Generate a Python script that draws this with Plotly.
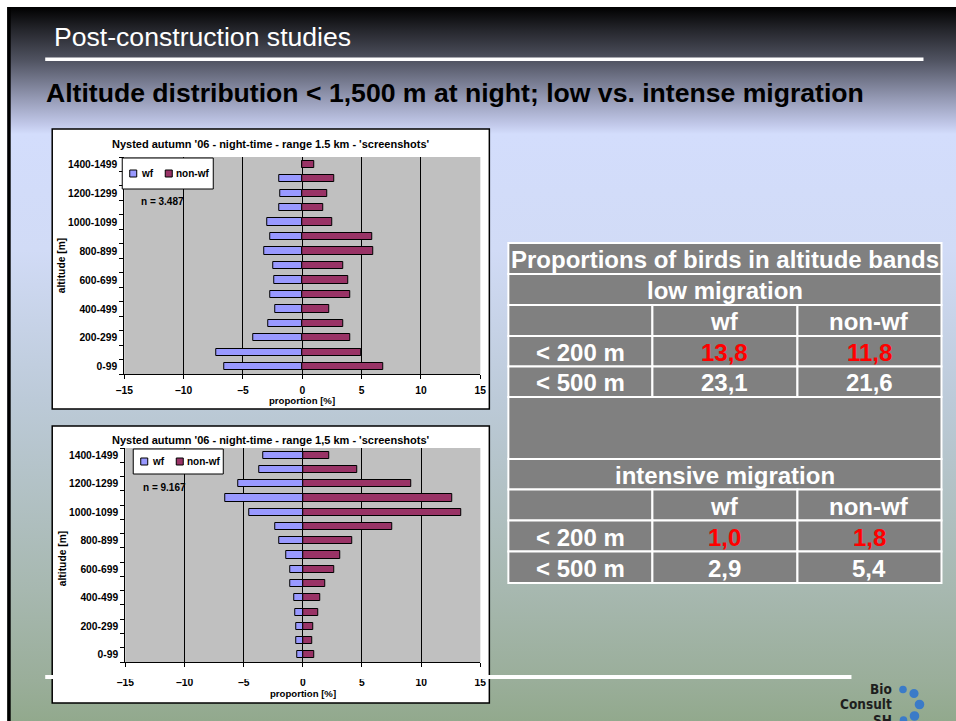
import base64
import plotly.graph_objects as go

# ---------------- data ----------------
altitude_bands = ["0-99", "100-199", "200-299", "300-399", "400-499", "500-599",
                  "600-699", "700-799", "800-899", "900-999", "1000-1099",
                  "1100-1199", "1200-1299", "1300-1399", "1400-1499"]

# proportion [%] per altitude band, low migration (n = 3.487)
low_wf = [6.55, 7.25, 4.15, 2.85, 2.30, 2.70, 2.33, 2.42, 3.20, 2.70, 2.98, 1.94, 1.85, 1.94, 0.00]
low_nonwf = [6.80, 5.00, 4.05, 3.45, 2.30, 4.07, 3.88, 3.43, 6.01, 5.87, 2.50, 1.74, 2.10, 2.72, 1.04]

# proportion [%] per altitude band, intensive migration (n = 9.167)
int_wf = [0.45, 0.55, 0.55, 0.65, 0.70, 1.09, 1.09, 1.43, 2.00, 2.34, 4.51, 6.57, 5.49, 3.69, 3.30]
int_nonwf = [1.00, 0.80, 0.85, 1.30, 1.45, 1.91, 2.66, 3.20, 4.17, 7.54, 13.37, 12.60, 9.17, 4.60, 2.23]

series_names = ["wf", "non-wf"]
x_ticks = [-15, -10, -5, 0, 5, 10, 15]

chart_titles = ["Nysted autumn '06 - night-time - range 1.5 km - 'screenshots'",
                "Nysted autumn '06 - night-time - range 1,5 km - 'screenshots'"]
sample_sizes = ["n = 3.487", "n = 9.167"]

# summary table
table_title = "Proportions of birds in altitude bands"
sections = ["low migration", "intensive migration"]
col_heads = ["wf", "non-wf"]
band_labels = ["< 200 m", "< 500 m"]
low_tab_wf = [13.8, 23.1]
low_tab_nonwf = [11.8, 21.6]
int_tab_wf = [1.0, 2.9]
int_tab_nonwf = [1.8, 5.4]

# ---------------- page geometry ----------------
W, H = 956, 721
# the page hosting the figure sits 7.8 px in and is drawn at 0.984 of its width
X_OFF, X_SCALE = 7.8, 0.984
FONT = "Liberation Sans, Arial, sans-serif"
SERIES_COLORS = ["#9999FF", "#993366"]
PLOT_GRAY = "#C0C0C0"
CELL_GRAY = "#808080"


def px(x):
    return (x - X_OFF) / X_SCALE / W


def py(y):
    return 1 - y / H


def bold(size, color="black"):
    return dict(family=FONT, size=size, color=color, weight="bold")


# vertical background gradient as an inline SVG image
stops = [(0.000, "#000000"), (0.032, "#25262c"), (0.074, "#4f5260"),
         (0.130, "#979cb7"), (0.165, "#c2c9ea"), (0.178, "#d3ddfc"),
         (0.340, "#d1dbf6"), (0.550, "#bccad8"), (0.816, "#a7b8b0"),
         (0.943, "#9aae9a"), (1.000, "#92a98d")]
stop_xml = "".join(f'<stop offset="{o}" stop-color="{c}"/>' for o, c in stops)
svg = ('<svg xmlns="http://www.w3.org/2000/svg" width="960" height="714" '
       'viewBox="0 0 960 714" preserveAspectRatio="none">'
       '<defs><linearGradient id="g" x1="0" y1="0" x2="0" y2="1">'
       f'{stop_xml}</linearGradient></defs>'
       '<rect width="960" height="714" fill="url(#g)"/></svg>')
bg_uri = "data:image/svg+xml;base64," + base64.b64encode(svg.encode()).decode()

fig = go.Figure()

ypos = list(range(len(altitude_bands)))
panels = [
    dict(wf=low_wf, nonwf=low_nonwf, xa="x", ya="y"),
    dict(wf=int_wf, nonwf=int_nonwf, xa="x2", ya="y2"),
]
for p in panels:
    for name, vals, sign, color in [(series_names[0], p["wf"], -1, SERIES_COLORS[0]),
                                    (series_names[1], p["nonwf"], 1, SERIES_COLORS[1])]:
        fig.add_trace(go.Bar(
            y=ypos, x=[sign * v for v in vals], orientation="h", name=name,
            marker=dict(color=color, line=dict(color="black", width=1)),
            width=0.5, xaxis=p["xa"], yaxis=p["ya"], showlegend=False,
            hoverinfo="skip"))

# chart boxes: (box left, top, right, bottom), plot (left, top, right, bottom)
boxes = [
    dict(box=(51, 129, 488, 409), plot=(123, 157, 479, 374),
         legend=(121, 158, 212, 189), n=(138, 201), title_y=144,
         ytitle=(60, 265), xtitle_y=400, standoff=3),
    dict(box=(51, 426, 488, 703), plot=(124, 448, 479, 662),
         legend=(132, 449, 222, 474), n=(140, 487), title_y=440,
         ytitle=(61, 558), xtitle_y=693, standoff=7),
]

axis_common_x = dict(range=[-15, 15], tickmode="array", tickvals=x_ticks,
                     showgrid=True, gridcolor="black", gridwidth=1,
                     zeroline=True, zerolinecolor="black", zerolinewidth=1,
                     showline=True, linecolor="black", linewidth=1,
                     ticks="outside", ticklen=4, tickcolor="black",
                     tickfont=bold(10.3), fixedrange=True)
axis_common_y = dict(range=[-0.5, len(altitude_bands) - 0.5], tickmode="array",
                     tickvals=ypos[::2], ticktext=altitude_bands[::2],
                     showgrid=False, zeroline=False,
                     showline=True, linecolor="black", linewidth=1,
                     ticks="outside", ticklen=4, tickcolor="rgba(0,0,0,0)",
                     minor=dict(tickmode="array",
                                tickvals=[i - 0.5 for i in range(len(altitude_bands) + 1)],
                                ticks="outside", ticklen=4, tickcolor="black",
                                showgrid=False),
                     tickfont=bold(10.3), fixedrange=True)

b1, b2 = boxes
fig.update_layout(
    xaxis=dict(domain=[px(b1["plot"][0]), px(b1["plot"][2])], anchor="y",
               ticklabelstandoff=b1["standoff"], **axis_common_x),
    yaxis=dict(domain=[py(b1["plot"][3]), py(b1["plot"][1])], anchor="x", **axis_common_y),
    xaxis2=dict(domain=[px(b2["plot"][0]), px(b2["plot"][2])], anchor="y2",
                ticklabelstandoff=b2["standoff"], **axis_common_x),
    yaxis2=dict(domain=[py(b2["plot"][3]), py(b2["plot"][1])], anchor="x2", **axis_common_y),
)

shapes = []
annotations = []
images = [dict(source=bg_uri, xref="paper", yref="paper", x=px(6), y=py(7),
               sizex=px(966) - px(6), sizey=714 / H, sizing="stretch",
               xanchor="left", yanchor="top", layer="below")]

# black left border of the slide
shapes.append(dict(type="rect", xref="paper", yref="paper", x0=px(6), x1=px(9.5),
                   y0=py(721), y1=py(7), fillcolor="black", line_width=0,
                   layer="below"))

# header rule and bottom rule
shapes.append(dict(type="rect", xref="paper", yref="paper", x0=px(44), x1=px(922),
                   y0=py(61), y1=py(57.5), fillcolor="white", line_width=0,
                   layer="below"))
shapes.append(dict(type="rect", xref="paper", yref="paper", x0=px(44), x1=px(850),
                   y0=py(679), y1=py(675), fillcolor="white", line_width=0,
                   layer="above"))

# legend layout inside its box: (square offset, text offset) per entry
legend_offsets = [(7.5, 16.5), (43, 51.5)]

for i, b in enumerate(boxes):
    bx0, by0, bx1, by1 = b["box"]
    shapes.append(dict(type="rect", xref="paper", yref="paper",
                       x0=px(bx0), x1=px(bx1), y0=py(by1), y1=py(by0),
                       fillcolor="white", line=dict(color="black", width=1.5),
                       layer="below"))
    xa = "x" if i == 0 else "x2"
    ya = "y" if i == 0 else "y2"
    shapes.append(dict(type="rect", xref=f"{xa} domain", yref=f"{ya} domain",
                       x0=0, x1=1, y0=0, y1=1, fillcolor=PLOT_GRAY, line_width=0,
                       layer="below"))

    # legend box with its two entries
    lx0, ly0, lx1, ly1 = b["legend"]
    lyc = (ly0 + ly1) / 2
    shapes.append(dict(type="rect", xref="paper", yref="paper",
                       x0=px(lx0), x1=px(lx1), y0=py(ly1), y1=py(ly0),
                       fillcolor="white", line=dict(color="black", width=1),
                       layer="above"))
    for (sq_off, tx_off), name, color in zip(legend_offsets, series_names, SERIES_COLORS):
        shapes.append(dict(type="rect", xref="paper", yref="paper",
                           x0=px(lx0 + sq_off), x1=px(lx0 + sq_off + 7),
                           y0=py(lyc + 3.5), y1=py(lyc - 3.5),
                           fillcolor=color, line=dict(color="black", width=1),
                           layer="above"))
        annotations.append(dict(text=name, xref="paper", yref="paper",
                                x=px(lx0 + tx_off), y=py(lyc), xanchor="left",
                                yanchor="middle", showarrow=False, font=bold(10)))

    annotations.append(dict(text=chart_titles[i], xref="paper", yref="paper",
                            x=px((bx0 + bx1) / 2), y=py(b["title_y"]),
                            xanchor="center", yanchor="middle", showarrow=False,
                            font=bold(11)))
    annotations.append(dict(text=sample_sizes[i], xref="paper", yref="paper",
                            x=px(b["n"][0]), y=py(b["n"][1]),
                            xanchor="left", yanchor="middle", showarrow=False,
                            font=bold(10)))
    annotations.append(dict(text="altitude [m]", xref="paper", yref="paper",
                            x=px(b["ytitle"][0]), y=py(b["ytitle"][1]),
                            xanchor="center", yanchor="middle", textangle=-90,
                            showarrow=False, font=bold(10.3)))
    annotations.append(dict(text="proportion [%]", xref="paper", yref="paper",
                            x=px((b["plot"][0] + b["plot"][2]) / 2), y=py(b["xtitle_y"]),
                            xanchor="center", yanchor="middle", showarrow=False,
                            font=bold(9.6)))

# slide heading texts
annotations.append(dict(text="Post-construction studies", xref="paper", yref="paper",
                        x=px(51), y=py(37), xanchor="left", yanchor="middle",
                        showarrow=False,
                        font=dict(family=FONT, size=26.6, color="white")))
annotations.append(dict(text="Altitude distribution < 1,500 m at night; low vs. intense migration",
                        xref="paper", yref="paper", x=px(43), y=py(93),
                        xanchor="left", yanchor="middle", showarrow=False,
                        font=bold(26.6)))

# ---------------- summary table ----------------
col_edges = [507, 651, 796, 940]
row_edges = [243, 274, 305, 336, 366.5, 397, 459, 489.5, 520.5, 551.5, 583]


def fmt(v):
    return f"{v:.1f}".replace(".", ",")


def cell(c0, c1, r, text="", color="white"):
    x0, x1 = col_edges[c0], col_edges[c1]
    y0, y1 = row_edges[r], row_edges[r + 1]
    shapes.append(dict(type="rect", xref="paper", yref="paper",
                       x0=px(x0), x1=px(x1), y0=py(y1), y1=py(y0),
                       fillcolor=CELL_GRAY, line=dict(color="white", width=2),
                       layer="below"))
    if text:
        annotations.append(dict(text=text, xref="paper", yref="paper",
                                x=px((x0 + x1) / 2), y=py((y0 + y1) / 2 + 1),
                                xanchor="center", yanchor="middle", showarrow=False,
                                font=bold(24, color)))


cell(0, 3, 0, table_title)
blocks = [(1, sections[0], low_tab_wf, low_tab_nonwf),
          (6, sections[1], int_tab_wf, int_tab_nonwf)]
for r0, name, wf_vals, nwf_vals in blocks:
    cell(0, 3, r0, name)
    cell(0, 1, r0 + 1)
    cell(1, 2, r0 + 1, col_heads[0])
    cell(2, 3, r0 + 1, col_heads[1])
    for k, band in enumerate(band_labels):
        color = "#FF0000" if k == 0 else "white"
        cell(0, 1, r0 + 2 + k, band)
        cell(1, 2, r0 + 2 + k, fmt(wf_vals[k]), color)
        cell(2, 3, r0 + 2 + k, fmt(nwf_vals[k]), color)
cell(0, 3, 5)

# ---------------- logo ----------------
logo_font = dict(family="DejaVu Sans Condensed, Liberation Sans Narrow, Arial Narrow, sans-serif",
                 size=13.5, color="#1e1e1e", weight="bold")
for word, yy in [("Bio", 689), ("Consult", 704), ("SH", 720)]:
    annotations.append(dict(text=word, xref="paper", yref="paper", x=px(893), y=py(yy),
                            xanchor="right", yanchor="middle", showarrow=False,
                            font=logo_font))
for cx, cy, r in [(901.5, 689.5, 3.8), (912.5, 693.5, 4.6), (918, 704.5, 4.8),
                  (913, 716, 4.8), (902, 720, 3.8)]:
    shapes.append(dict(type="circle", xref="paper", yref="paper",
                       x0=px(cx - r), x1=px(cx + r), y0=py(cy + r), y1=py(cy - r),
                       fillcolor="#3b7bc8", line_width=0, layer="above"))

fig.update_layout(
    width=W, height=H, autosize=False, margin=dict(l=0, r=0, t=0, b=0),
    paper_bgcolor="white", plot_bgcolor="rgba(0,0,0,0)",
    barmode="overlay", bargap=0, showlegend=False,
    shapes=shapes, annotations=annotations, images=images,
)

fig.write_html("out.html", config={"responsive": False})
